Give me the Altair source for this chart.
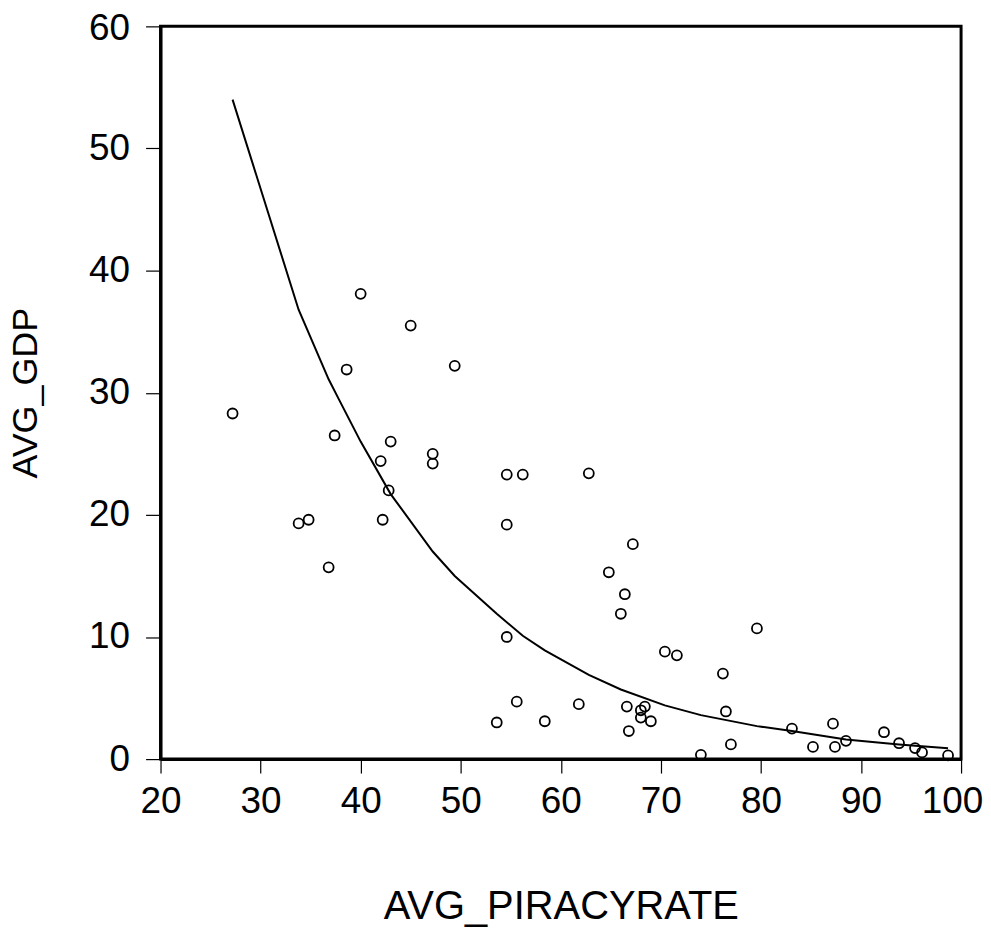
import altair as alt
import pandas as pd

# Scatter data
piracy = [27.2, 37.4, 43.0, 42.0, 47.2, 47.2, 54.6, 56.2, 42.8, 33.8, 34.8, 42.2,
          54.6, 36.8, 54.6, 55.6, 53.6, 58.4, 40.0, 45.0, 38.6, 49.4, 62.8, 67.2,
          64.8, 66.4, 66.0, 79.6, 70.4, 71.6, 76.2, 61.8, 66.6, 68.4, 68.0, 68.0,
          69.0, 66.8, 76.5, 77.0, 74.0, 83.1, 87.2, 85.2, 87.4, 88.5, 92.3, 93.8,
          95.4, 96.1, 98.7]
gdp = [28.3, 26.5, 26.0, 24.4, 25.0, 24.2, 23.3, 23.3, 22.0, 19.3, 19.6, 19.6,
       19.2, 15.7, 10.0, 4.7, 3.0, 3.1, 38.1, 35.5, 31.9, 32.2, 23.4, 17.6,
       15.3, 13.5, 11.9, 10.7, 8.8, 8.5, 7.0, 4.5, 4.3, 4.3, 4.0, 3.4,
       3.1, 2.3, 3.9, 1.2, 0.35, 2.5, 2.9, 1.0, 1.0, 1.5, 2.2, 1.3,
       0.9, 0.55, 0.3]

# Fitted curve vertices
fit_x = [27.2, 33.8, 36.8, 37.8, 40.0, 43.0, 47.2, 49.4, 53.6, 56.2, 58.4, 62.8,
         66.0, 70.4, 74.0, 79.6, 83.1, 88.5, 93.8, 98.7]
fit_y = [54.0, 36.8, 31.1, 29.5, 26.0, 21.7, 17.0, 15.0, 11.9, 10.1, 8.9, 6.9,
         5.7, 4.4, 3.6, 2.7, 2.3, 1.6, 1.2, 0.88]

x_ticks = [20, 30, 40, 50, 60, 70, 80, 90, 100]
y_ticks = [0, 10, 20, 30, 40, 50, 60]

pts = pd.DataFrame({"AVG_PIRACYRATE": piracy, "AVG_GDP": gdp})
fit = pd.DataFrame({"AVG_PIRACYRATE": fit_x, "AVG_GDP": fit_y})

FONT = "Liberation Sans"

x_enc = alt.X(
    "AVG_PIRACYRATE:Q",
    scale=alt.Scale(domain=[20, 100], nice=False, zero=False),
    axis=alt.Axis(
        values=x_ticks, grid=False, title="AVG_PIRACYRATE",
        domainColor="black", domainWidth=3,
        tickColor="black", tickWidth=1.2, tickSize=14,
        labelFont=FONT, labelFontSize=37, labelColor="black", labelPadding=11,
        labelFlush=False, labelOverlap=False,
        labelOffset={"condition": {"test": "datum.value === 100", "value": -9}, "value": 0},
        titleFont=FONT, titleFontSize=40, titleFontWeight="normal", titleColor="black",
        titleBaseline="alphabetic", titleY=160,
    ),
)
y_enc = alt.Y(
    "AVG_GDP:Q",
    scale=alt.Scale(domain=[0, 60], nice=False, zero=False),
    axis=alt.Axis(
        values=y_ticks, grid=False, title="AVG_GDP",
        domainColor="black", domainWidth=3,
        tickColor="black", tickWidth=1.2, tickSize=15,
        labelFont=FONT, labelFontSize=37, labelColor="black", labelPadding=16,
        labelFlush=False, labelOverlap=False, labelBaseline="middle",
        labelOffset={"condition": {"test": "datum.value === 60", "value": 2}, "value": 0},
        titleFont=FONT, titleFontSize=36, titleFontWeight="normal", titleColor="black",
        titleAngle=270, titleBaseline="alphabetic", titleAlign="center",
        titleX=-124, titleY=367.5,
    ),
)

points = alt.Chart(pts).mark_point(
    shape="circle", filled=False, color="black", size=100, strokeWidth=1.8, opacity=1
).encode(x=x_enc, y=y_enc)

line = alt.Chart(fit).mark_line(color="black", strokeWidth=2).encode(
    x=alt.X("AVG_PIRACYRATE:Q"), y=alt.Y("AVG_GDP:Q"), order="AVG_PIRACYRATE:Q"
)

chart = (
    alt.layer(points, line)
    .properties(
        width=803, height=735,
        autosize=alt.AutoSizeParams(type="none"),
        padding={"left": 153, "top": 17, "right": 22, "bottom": 170},
        background="white",
    )
    .configure_view(stroke="black", strokeWidth=3)
)

chart.save("out.html", embed_options={"renderer": "svg", "actions": False})
